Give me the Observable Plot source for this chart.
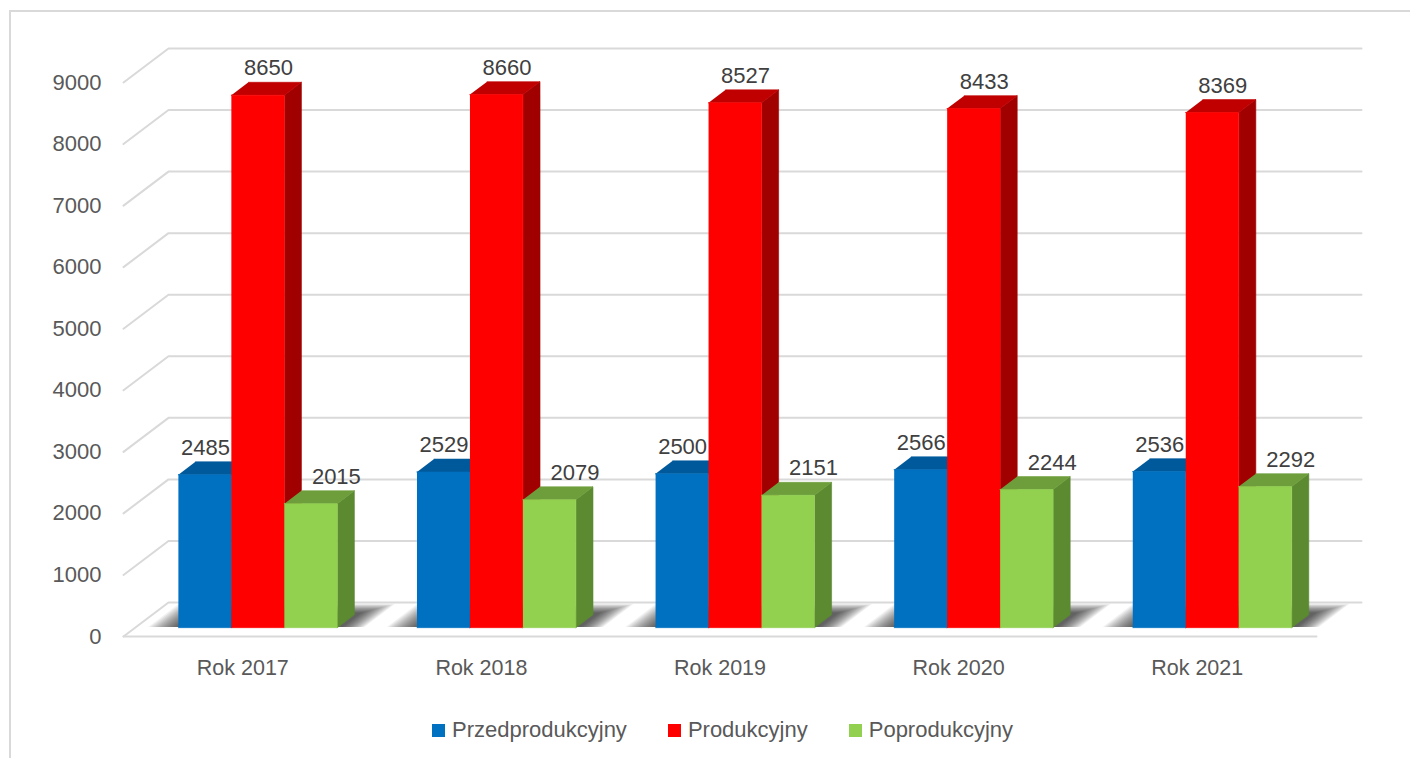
<!DOCTYPE html>
<html>
<head>
<meta charset="utf-8">
<script src="https://cdn.jsdelivr.net/npm/d3@7"></script>
<script src="https://cdn.jsdelivr.net/npm/@observablehq/plot@0.6"></script>
<style>
  html, body { margin: 0; padding: 0; background: #fff; overflow: hidden; }
  body { width: 1410px; height: 758px; position: relative; font-family: "Liberation Sans", Arial, sans-serif; }
  #frame { position: absolute; left: 9px; top: 10px; width: 1600px; height: 900px; border: 2px solid #d9d9d9; pointer-events: none; }
  #chart svg { display: block; }
  #legend { height: 56px; display: flex; align-items: center; padding-left: 432px; color: #595959; font-size: 22px; }
  .item { display: flex; align-items: center; margin-right: 41px; }
  .sw { width: 13px; height: 13px; margin-right: 7px; }
</style>
</head>
<body>
<div id="chart"></div>
<div id="legend"></div>
<div id="frame"></div>
<script>
// ---- data ----
const categories = ["Rok 2017", "Rok 2018", "Rok 2019", "Rok 2020", "Rok 2021"];
const seriesNames = ["Przedprodukcyjny", "Produkcyjny", "Poprodukcyjny"];
const przedprodukcyjny = [2485, 2529, 2500, 2566, 2536];
const produkcyjny = [8650, 8660, 8527, 8433, 8369];
const poprodukcyjny = [2015, 2079, 2151, 2244, 2292];
const yTicks = [0, 1000, 2000, 3000, 4000, 5000, 6000, 7000, 8000, 9000];

// ---- styles ----
const frontColors = ["#0070C0", "#FF0000", "#92D050"];
const topColors = ["#00599B", "#C00000", "#6E9E3C"];
const sideColors = ["#004C85", "#A00000", "#5B8A30"];
const labelDx = [-8, 2, 17];

const values = [przedprodukcyjny, produkcyjny, poprodukcyjny];
const W = 1410, H = 702;
const mL = 123, mR = 94, mT = 82, mB = 66;
const catPx = (W - mL - mR) / categories.length;
const DX = 45 / catPx;                 // full depth in x units
const DY = 34 * 9000 / (H - mT - mB);  // full depth in y units
const bw = 0.222, off = 0.181, w0 = 0.26, w1 = 0.64;
const P = (u, w, v) => ({x: u + w * DX, y: v + w * DY});

// gridlines on back wall + left wall
const grid = [];
yTicks.forEach(t => {
  grid.push({id: t, ...P(0, 0, t)}, {id: t, ...P(0, 1, t)}, {id: t, ...P(categories.length, 1, t)});
});
const floorFront = [P(0, 0, 0), P(categories.length, 0, 0)];

// shadows (layered for a soft edge) and bar faces
const shadows = [];
const faces = [];
const labels = [];
const nLayers = 16;
categories.forEach((c, i) => {
  const g0 = i + off, g1 = i + off + 3 * bw;
  for (let L = 0; L < nLayers; L++) {
    const sid = `s${i}-${L}`;
    const t = L / (nLayers - 1);
    const eu0 = 0.01 + t * 0.12, eu1 = 0.02 + t * 0.09;
    const ew0 = 0.28, ew1 = 0.7 + t * 0.26;
    [[g0 - eu0, ew0], [g1 + eu1, ew0], [g1 + eu1, ew1], [g0 - eu0, ew1]].forEach(([u, w]) =>
      shadows.push({id: sid, ...P(u, w, 0)}));
  }
  seriesNames.forEach((s, k) => {
    const v = values[k][i];
    const u0 = i + off + k * bw, u1 = u0 + bw;
    const base = `${i}-${k}`;
    [P(u1, w0, 0), P(u1, w1, 0), P(u1, w1, v), P(u1, w0, v)].forEach(p => faces.push({id: base + "side", color: sideColors[k], ...p}));
    [P(u0, w0, v), P(u1, w0, v), P(u1, w1, v), P(u0, w1, v)].forEach(p => faces.push({id: base + "top", color: topColors[k], ...p}));
    [P(u0, w0, 0), P(u1, w0, 0), P(u1, w0, v), P(u0, w0, v)].forEach(p => faces.push({id: base + "front", color: frontColors[k], ...p}));
    labels.push({...P((u0 + u1) / 2, (w0 + w1) / 2, v), y: v + w1 * DY, text: String(v), series: k});
  });
});

const font = "Liberation Sans, Arial, sans-serif";
const plot = Plot.plot({
  width: W, height: H,
  marginLeft: mL, marginRight: mR, marginTop: mT, marginBottom: mB,
  x: {type: "linear", domain: [0, categories.length], axis: null},
  y: {type: "linear", domain: [0, 9000], axis: null},
  color: {type: "identity"},
  style: {fontFamily: font, background: "#fff"},
  marks: [
    Plot.line(grid, {x: "x", y: "y", z: "id", stroke: "#d9d9d9", strokeWidth: 2}),
    Plot.line(floorFront, {x: "x", y: "y", stroke: "#d9d9d9", strokeWidth: 2}),
    Plot.line(shadows, {x: "x", y: "y", z: "id", fill: "#000000", fillOpacity: 0.055, stroke: "none"}),
    Plot.line(faces, {x: "x", y: "y", z: "id", fill: "color", stroke: "color", strokeWidth: 0.6}),
    ...[0, 1, 2].map(k => Plot.text(labels.filter(d => d.series === k), {x: "x", y: "y", text: "text", dx: labelDx[k], dy: -14, fill: "#404040", fontSize: 22, fontFamily: font})),
    Plot.text(yTicks, {x: 0, y: d => d, text: d => String(d), textAnchor: "end", dx: -22, fill: "#595959", fontSize: 22, fontFamily: font}),
    Plot.text(categories, {x: (d, i) => i + 0.5, y: 0, text: d => d, dy: 32, fill: "#595959", fontSize: 21.5, fontFamily: font})
  ]
});

document.getElementById("chart").appendChild(plot);

// legend
const legend = d3.select("#legend");
seriesNames.forEach((s, k) => {
  const it = legend.append("div").attr("class", "item");
  it.append("div").attr("class", "sw").style("background", frontColors[k]);
  it.append("span").text(s);
});
</script>
</body>
</html>
